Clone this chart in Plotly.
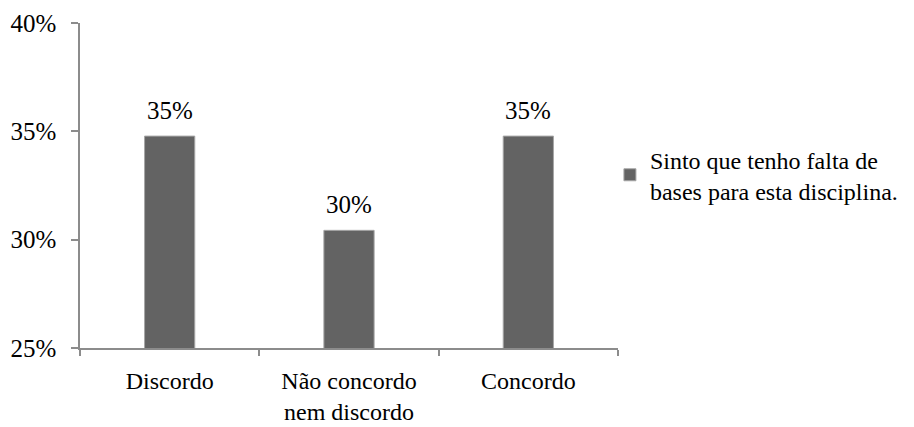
import plotly.graph_objects as go

categories = ["Discordo", "Não concordo<br>nem discordo", "Concordo"]
values = [34.78, 30.43, 34.78]
value_labels = ["35%", "30%", "35%"]
series_name = "Sinto que tenho falta de<br>bases para esta disciplina."
y_ticks = [25, 30, 35, 40]
y_tick_labels = ["25%", "30%", "35%", "40%"]

FONT = "Liberation Serif"
FS = 25
AX = "#8c8c8c"

fig = go.Figure()
fig.add_trace(go.Bar(
    x=categories, y=values, name=series_name,
    marker=dict(color="#636363", line=dict(color="#a6a6a6", width=1)),
))

for c, v, t in zip(categories, values, value_labels):
    fig.add_annotation(x=c, y=v, text=t, showarrow=False, yanchor="bottom",
                       yshift=10, font=dict(family=FONT, size=FS, color="#000000"))

# page body has an 8px default margin, so the figure is 8px smaller than the window
fig.update_layout(
    width=906, height=419,
    margin=dict(l=72, r=296, t=15, b=79, autoexpand=False),
    paper_bgcolor="white", plot_bgcolor="white",
    font=dict(family=FONT, size=FS, color="#000000"),
    bargap=0.72,
    showlegend=True,
    legend=dict(x=0.985, y=0.649, xanchor="left", yanchor="top",
                font=dict(family=FONT, size=24, color="#000000"),
                itemwidth=30, bgcolor="rgba(0,0,0,0)"),
    xaxis=dict(showline=True, linecolor=AX, linewidth=1.5, automargin=False,
               ticks="outside", tickson="boundaries", ticklen=6, tickcolor=AX,
               tickwidth=1.5, showgrid=False, ticklabelstandoff=10,
               tickfont=dict(family=FONT, size=24)),
    yaxis=dict(range=[25, 40], tickvals=y_ticks, ticktext=y_tick_labels,
               showline=True, linecolor=AX, linewidth=1.5, automargin=False,
               ticks="outside", ticklen=7, tickcolor=AX, tickwidth=1.5,
               ticklabelstandoff=10,
               showgrid=False, zeroline=False, tickfont=dict(family=FONT, size=FS)),
)

fig.write_html("out.html")
